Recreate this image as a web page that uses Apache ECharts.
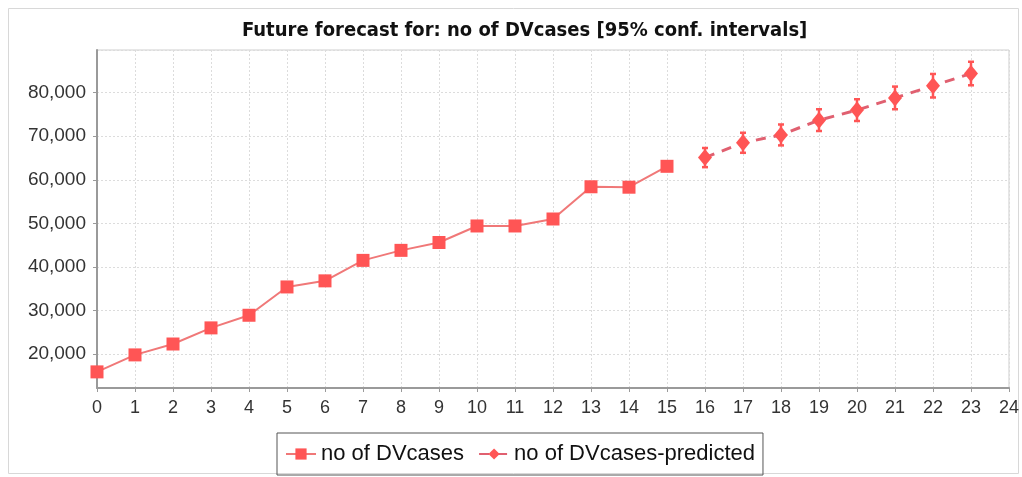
<!DOCTYPE html>
<html>
<head>
<meta charset="utf-8">
<script src="https://cdn.jsdelivr.net/npm/echarts@6/dist/echarts.min.js"></script>
<style>
  html, body { margin: 0; padding: 0; background: #fff; }
  #chart { width: 1022px; height: 477px; }
</style>
</head>
<body>
<div id="chart"></div>
<script>
// Observed counts, periods 0..15
const observedX = [0, 1, 2, 3, 4, 5, 6, 7, 8, 9, 10, 11, 12, 13, 14, 15];
const observedCases = [15900, 19800, 22300, 26000, 28900, 35400, 36800, 41500, 43800, 45600, 49400, 49400, 51000, 58400, 58300, 63100];

// Forecast, periods 16..23, with 95% confidence bounds
const forecastX = [16, 17, 18, 19, 20, 21, 22, 23];
const forecastCases = [65100, 68500, 70300, 73700, 76000, 78800, 81600, 84400];
const forecastLower = [62900, 66200, 67900, 71200, 73500, 76200, 78900, 81700];
const forecastUpper = [67300, 70800, 72700, 76200, 78500, 81400, 84300, 87100];

const seriesNames = ['no of DVcases', 'no of DVcases-predicted'];
const titleText = 'Future forecast for: no of DVcases [95% conf. intervals]';

const RED = '#ff5555';

const chart = echarts.init(document.getElementById('chart'), null, { renderer: 'canvas' });

const observedData = observedX.map((x, i) => [x, observedCases[i]]);
const forecastData = forecastX.map((x, i) => [x, forecastCases[i]]);
const intervalData = forecastX.map((x, i) => [x, forecastLower[i], forecastUpper[i]]);

const option = {
  backgroundColor: '#ffffff',
  animation: false,
  title: {
    text: titleText,
    left: 237,
    top: 16,
    textStyle: {
      fontFamily: '"Liberation Sans Narrow", "DejaVu Sans Condensed", sans-serif',
      fontWeight: 'bold',
      fontSize: 20,
      color: '#111'
    }
  },
  graphic: [{
    type: 'rect',
    shape: { x: 8.5, y: 8.5, width: 1010, height: 465 },
    style: { fill: 'none', stroke: '#d8d8d8', lineWidth: 1 },
    silent: true,
    z: -1
  }],
  legend: {
    data: seriesNames,
    bottom: 2,
    left: 277,
    borderColor: '#555',
    borderWidth: 1,
    padding: [10, 8, 10, 8],
    itemGap: 14,
    itemWidth: 30,
    itemHeight: 14,
    textStyle: {
      fontFamily: '"Liberation Sans", Arial, sans-serif',
      fontSize: 22,
      color: '#111'
    }
  },
  grid: {
    left: 97,
    right: 13,
    top: 50,
    bottom: 89,
    show: true,
    borderColor: '#cfcfcf',
    borderWidth: 1,
    backgroundColor: '#ffffff'
  },
  xAxis: {
    type: 'value',
    min: 0,
    max: 24,
    interval: 1,
    axisLine: { show: true, onZero: false, lineStyle: { color: '#9a9a9a', width: 2 } },
    axisTick: { show: true, length: 4, lineStyle: { color: '#9a9a9a' } },
    axisLabel: {
      margin: 11,
      fontFamily: '"Liberation Sans", Arial, sans-serif',
      fontSize: 18,
      color: '#333'
    },
    splitLine: { show: true, lineStyle: { color: '#dcdcdc', type: [2, 2], width: 1 } }
  },
  yAxis: {
    type: 'value',
    min: 12200,
    max: 89800,
    splitNumber: 8,
    axisLine: { show: true, lineStyle: { color: '#9a9a9a', width: 2 } },
    axisTick: { show: true, length: 4, lineStyle: { color: '#9a9a9a' } },
    axisLabel: {
      margin: 11,
      fontFamily: '"Liberation Sans", Arial, sans-serif',
      fontSize: 19,
      color: '#333',
      showMinLabel: false,
      showMaxLabel: false,
      formatter: v => (v % 10000 === 0 ? v.toLocaleString('en-US') : '')
    },
    splitLine: { show: true, lineStyle: { color: '#dcdcdc', type: [2, 2], width: 1 } }
  },
  series: [
    {
      name: seriesNames[0],
      type: 'line',
      data: observedData,
      symbol: 'rect',
      symbolSize: 13,
      itemStyle: { color: RED },
      lineStyle: { color: '#f07878', width: 2 },
      z: 3
    },
    {
      name: seriesNames[1],
      type: 'line',
      data: forecastData,
      symbol: 'diamond',
      symbolSize: [14, 17],
      itemStyle: { color: RED },
      lineStyle: { color: '#e06070', width: 3, type: [10, 8] },
      z: 4
    },
    {
      name: 'interval',
      type: 'custom',
      data: intervalData,
      z: 3,
      encode: { x: 0, y: [1, 2] },
      renderItem: (params, api) => {
        const x = api.value(0);
        const lo = api.coord([x, api.value(1)]);
        const hi = api.coord([x, api.value(2)]);
        const cap = 3;
        const style = { stroke: RED, lineWidth: 2.5, fill: null };
        return {
          type: 'group',
          children: [
            { type: 'line', shape: { x1: lo[0], y1: lo[1], x2: hi[0], y2: hi[1] }, style },
            { type: 'line', shape: { x1: lo[0] - cap, y1: lo[1], x2: lo[0] + cap, y2: lo[1] }, style },
            { type: 'line', shape: { x1: hi[0] - cap, y1: hi[1], x2: hi[0] + cap, y2: hi[1] }, style }
          ]
        };
      }
    }
  ]
};

chart.setOption(option);
</script>
</body>
</html>
